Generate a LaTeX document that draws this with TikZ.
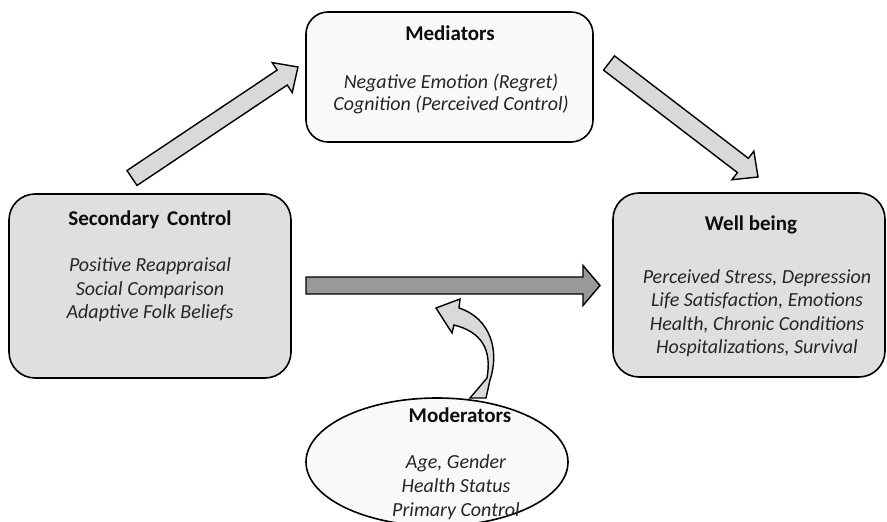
\documentclass[tikz,border=0pt]{standalone}
\usepackage{fontspec}
\setmainfont{Carlito}
\usetikzlibrary{positioning, calc, shapes.geometric}

% block arrow: style, from, to, half shaft, half head, head length
\newcommand{\blockarrow}[6]{%
  \path coordinate (hb) at ($(#3)!#6!(#2)$);
  \draw[#1] ($(#2)!#4!90:(#3)$) -- ($(hb)!#4!90:(#3)$) -- ($(hb)!#5!90:(#3)$)
    -- (#3) -- ($(hb)!#5!-90:(#3)$) -- ($(hb)!#4!-90:(#3)$) -- ($(#2)!#4!-90:(#3)$) -- cycle;
}

\begin{document}
\begin{tikzpicture}[
    x=1pt, y=-1pt,
    box/.style={draw, line width=1.6pt, rectangle, rounded corners=26pt},
    title/.style={font=\fontsize{21}{24}\selectfont\bfseries, text=black!95},
    items/.style={align=center, font=\fontsize{20}{23.5}\selectfont\itshape, text=black!85},
    barrow/.style={draw, line width=1.4pt, line join=miter, fill=gray!30},
    harrow/.style={draw, line width=1.4pt, line join=miter, fill=gray!80}
]

\useasboundingbox (0,0) rectangle (887,522);

% Boxes
\node[box, fill=gray!25, minimum width=282pt, minimum height=184pt] (sec) at (150,286) {};
\node[box, fill=gray!5, rounded corners=22pt, minimum width=287pt, minimum height=130pt] (med) at (449.5,77) {};
\node[box, fill=gray!25, minimum width=272pt, minimum height=184pt] (well) at (749,285) {};
\node[draw, line width=1.6pt, ellipse, fill=gray!5, minimum width=262pt, minimum height=128pt] (moder) at (437,462) {};

% Texts
\node[title] (sec_t) at (150,220) {Secondary\hspace{3pt} Control};
\node[items] (sec_i) at (150,290) {Positive Reappraisal\\Social Comparison\\Adaptive Folk Beliefs};
\node[title] (med_t) at (450,33) {Mediators};
\node[items, font=\fontsize{20}{22}\selectfont\itshape] (med_i) at (451,94) {Negative Emotion (Regret)\\Cognition (Perceived Control)};
\node[title] (well_t) at (751,225) {Well being};
\node[items] (well_i) at (757,313) {Perceived Stress, Depression\\Life Satisfaction, Emotions\\Health, Chronic Conditions\\Hospitalizations, Survival};
\node[title] (moder_t) at (460,415) {Moderators};
\node[items, font=\fontsize{20}{24}\selectfont\itshape] (moder_i) at (456,487) {Age, Gender\\Health Status\\Primary Control};

% Arrows
\coordinate (a1s) at (132,178);
\coordinate (a1e) at (298,67);
\coordinate (a2s) at (609,63);
\coordinate (a2e) at (758,177);
\coordinate (a3s) at (306,285.5);
\coordinate (a3e) at (600,285.5);
\blockarrow{barrow}{a1s}{a1e}{9pt}{18pt}{19pt}
\blockarrow{barrow}{a2s}{a2e}{9pt}{18pt}{19pt}
\blockarrow{harrow}{a3s}{a3e}{8.5pt}{20pt}{17pt}

% Curved moderator arrow
\draw[barrow] (470,398) -- (487,378) .. controls (492,350) and (482,332) .. (454,325)
  -- (452,333) -- (436,308) -- (460,299) -- (459,308)
  .. controls (490,318) and (500,350) .. (490,380) -- (486,398) -- cycle;

\end{tikzpicture}
\end{document}
